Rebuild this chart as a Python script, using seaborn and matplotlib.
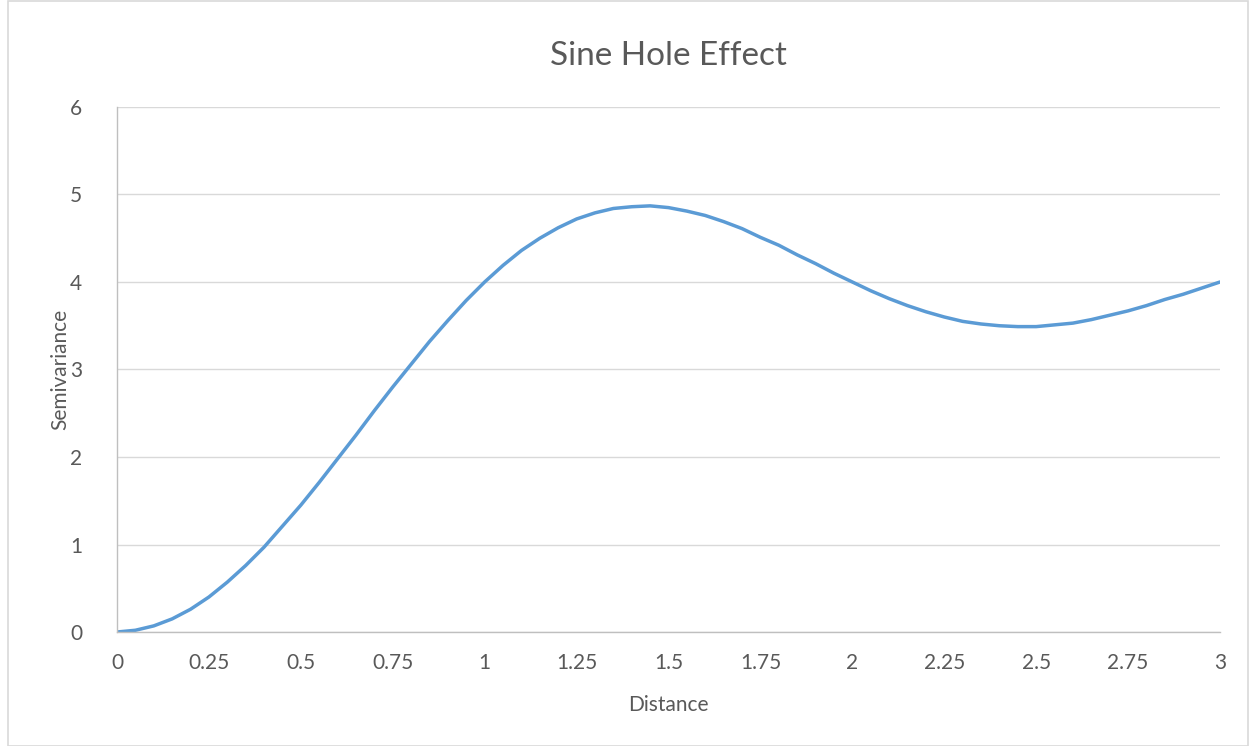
import matplotlib
matplotlib.use("Agg")
import matplotlib.pyplot as plt
import seaborn as sns
import pandas as pd
from matplotlib.patches import Rectangle

distance = [0.0, 0.05, 0.1, 0.15, 0.2, 0.25, 0.3, 0.35, 0.4, 0.45, 0.5, 0.55, 0.6, 0.65,
            0.7, 0.75, 0.8, 0.85, 0.9, 0.95, 1.0, 1.05, 1.1, 1.15, 1.2, 1.25, 1.3, 1.35,
            1.4, 1.45, 1.5, 1.55, 1.6, 1.65, 1.7, 1.75, 1.8, 1.85, 1.9, 1.95, 2.0, 2.05,
            2.1, 2.15, 2.2, 2.25, 2.3, 2.35, 2.4, 2.45, 2.5, 2.55, 2.6, 2.65, 2.7, 2.75,
            2.8, 2.85, 2.9, 2.95, 3.0]
semivariance = [0.00, 0.02, 0.07, 0.15, 0.26, 0.40, 0.57, 0.76, 0.97, 1.21, 1.45, 1.71,
                1.98, 2.25, 2.53, 2.80, 3.06, 3.32, 3.56, 3.79, 4.00, 4.19, 4.36, 4.50,
                4.62, 4.72, 4.79, 4.84, 4.86, 4.87, 4.85, 4.81, 4.76, 4.69, 4.61, 4.51,
                4.42, 4.31, 4.21, 4.10, 4.00, 3.90, 3.81, 3.73, 3.66, 3.60, 3.55, 3.52,
                3.50, 3.49, 3.49, 3.51, 3.53, 3.57, 3.62, 3.67, 3.73, 3.80, 3.86, 3.93,
                4.00]
x_ticks = [0, 0.25, 0.5, 0.75, 1, 1.25, 1.5, 1.75, 2, 2.25, 2.5, 2.75, 3]
x_tick_labels = ["0", "0.25", "0.5", "0.75", "1", "1.25", "1.5", "1.75", "2", "2.25",
                 "2.5", "2.75", "3"]
y_ticks = [0, 1, 2, 3, 4, 5, 6]

sns.set_theme(style="white")
plt.rcParams['font.family'] = ['Lato', 'DejaVu Sans']

df = pd.DataFrame({"Distance": distance, "Semivariance": semivariance})

fig = plt.figure(figsize=(12.5, 7.46), dpi=100)
ax = fig.add_axes([0.0936, 0.1528, 0.8824, 0.7038])

txt = "#595959"
sns.lineplot(data=df, x="Distance", y="Semivariance", ax=ax, color="#5b9bd5",
             linewidth=2.5, solid_capstyle="round", solid_joinstyle="round")

ax.set_xlim(0, 3)
ax.set_ylim(0, 6)
ax.set_xticks(x_ticks)
ax.set_xticklabels(x_tick_labels)
ax.set_yticks(y_ticks)
ax.yaxis.grid(True, color="#d9d9d9", linewidth=1.0)
ax.xaxis.grid(False)
ax.set_axisbelow(True)
for s in ["top", "right"]:
    ax.spines[s].set_visible(False)
for s in ["left", "bottom"]:
    ax.spines[s].set_color("#bfbfbf")
    ax.spines[s].set_linewidth(1.0)
ax.tick_params(axis="both", length=0, labelsize=15, colors=txt)
ax.tick_params(axis="x", pad=15)
ax.tick_params(axis="y", pad=25)
ax.set_xlabel("Distance", fontsize=15, color=txt, labelpad=16)
ax.set_ylabel("Semivariance", fontsize=15, color=txt, labelpad=0)
ax.set_title("Sine Hole Effect", fontsize=24, color=txt, pad=30)

fig.patches.append(Rectangle((0.006, 0.0), 0.992, 0.998, transform=fig.transFigure,
                             fill=False, edgecolor="#d9d9d9", linewidth=1.2))

fig.savefig("out.png", dpi=100)
